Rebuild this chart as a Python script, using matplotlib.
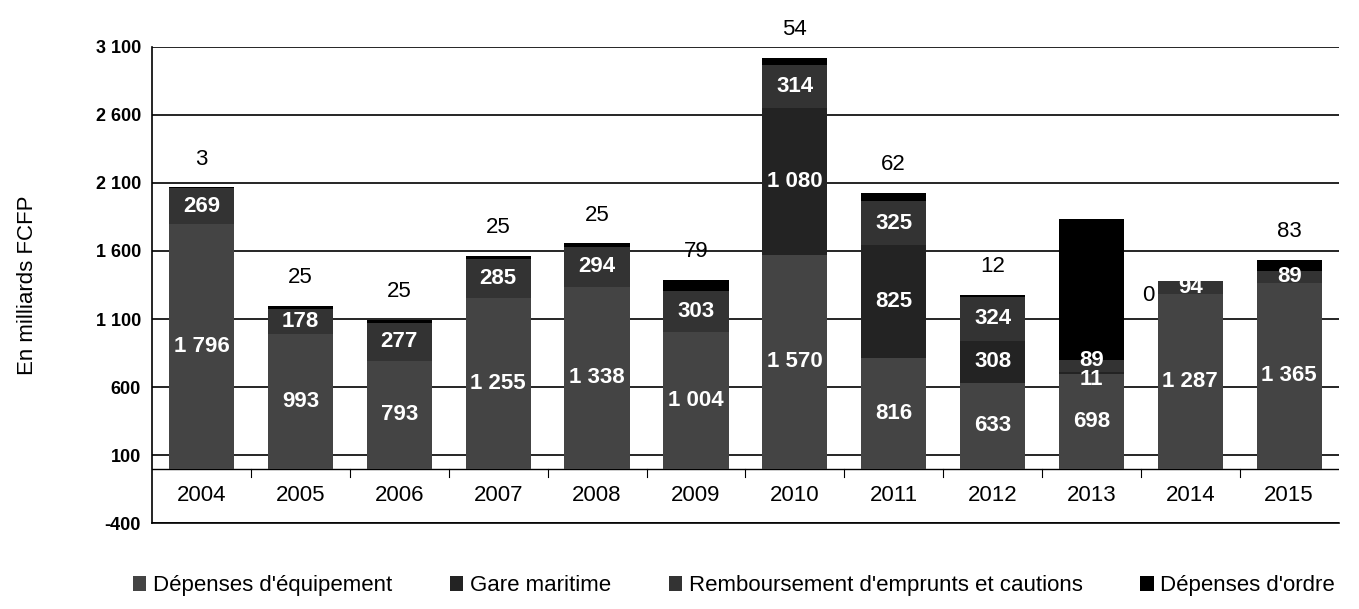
import numpy as np
import matplotlib.pyplot as plt

plt.rcParams['font.family'] = ['Liberation Sans', 'DejaVu Sans']

# données (en milliards FCFP)
years = ['2004', '2005', '2006', '2007', '2008', '2009', '2010', '2011', '2012', '2013', '2014', '2015']
equipement = [1796, 993, 793, 1255, 1338, 1004, 1570, 816, 633, 698, 1287, 1365]
gare = [0, 0, 0, 0, 0, 0, 1080, 825, 308, 11, 0, 0]
remboursement = [269, 178, 277, 285, 294, 303, 314, 325, 324, 89, 94, 89]
ordre = [3, 25, 25, 25, 25, 79, 54, 62, 12, 1040, 0, 83]
ordre_labels = ['3', '25', '25', '25', '25', '79', '54', '62', '12', '', '0', '83']
yticks = [-400, 100, 600, 1100, 1600, 2100, 2600, 3100]

series = [('Dépenses d\'équipement', equipement, '#444444'),
          ('Gare maritime', gare, '#232323'),
          ('Remboursement d\'emprunts et cautions', remboursement, '#333333'),
          ('Dépenses d\'ordre', ordre, '#000000')]


def fmt(v):
    return '{:,}'.format(int(v)).replace(',', ' ')


fig = plt.figure(figsize=(13.59, 6.09), dpi=100)
ax = fig.add_axes([0.112, 0.141, 0.873, 0.782])

x = np.arange(len(years))
bottom = np.zeros(len(years))
for i, (name, vals, col) in enumerate(series):
    vals = np.array(vals, dtype=float)
    ax.bar(x, vals, 0.66, bottom=bottom, color=col, label=name, zorder=3)
    if i < 3:
        for xi, b, v in zip(x, bottom, vals):
            if v <= 0:
                continue
            yy = b + v / 2
            if v < 50:
                yy -= 45  # petit segment : décaler vers le bas
            elif v < 100 and b + v < 900:
                yy += 45
            ax.text(xi, yy, fmt(v), ha='center', va='center', color='white',
                    fontsize=16, fontweight='bold', zorder=4)
    bottom = bottom + vals

# étiquettes des dépenses d'ordre au-dessus des barres
for xi, top, lab in zip(x, bottom, ordre_labels):
    if lab == '':
        continue
    if lab == '0':
        ax.text(xi - 0.42, top - 110, lab, ha='center', va='center', fontsize=16, zorder=4)
    else:
        ax.text(xi, top + 130, lab, ha='center', va='bottom', fontsize=16, zorder=4)

# années dans le "sol"
for xi, y in zip(x, years):
    ax.text(xi, -200, y, ha='center', va='center', fontsize=16, zorder=4)
ax.axhline(0, color='black', lw=1, zorder=2)
for xi in x[:-1]:
    ax.plot([xi + 0.5, xi + 0.5], [-60, 0], color='black', lw=0.8, zorder=2)

ax.set_xlim(-0.5, len(years) - 0.5)
ax.set_ylim(-400, 3100)
ax.set_yticks(yticks)
ax.set_yticklabels([fmt(v) for v in yticks], fontsize=13, fontweight='bold')
ax.yaxis.grid(True, color='black', lw=1.2, zorder=1)
ax.set_xticks([])
ax.tick_params(axis='y', length=0, pad=8)
for s in ['top', 'right']:
    ax.spines[s].set_visible(False)
ax.spines['left'].set_linewidth(1.2)
ax.spines['bottom'].set_linewidth(1.2)
ax.set_ylabel('En milliards FCFP', fontsize=16, labelpad=42)

fig.legend(loc='lower center', ncol=4, frameon=False, fontsize=16,
           bbox_to_anchor=(0.54, -0.012), handlelength=0.6, handleheight=0.6,
           handletextpad=0.3, columnspacing=2.6)

fig.savefig('out.png', dpi=100)
